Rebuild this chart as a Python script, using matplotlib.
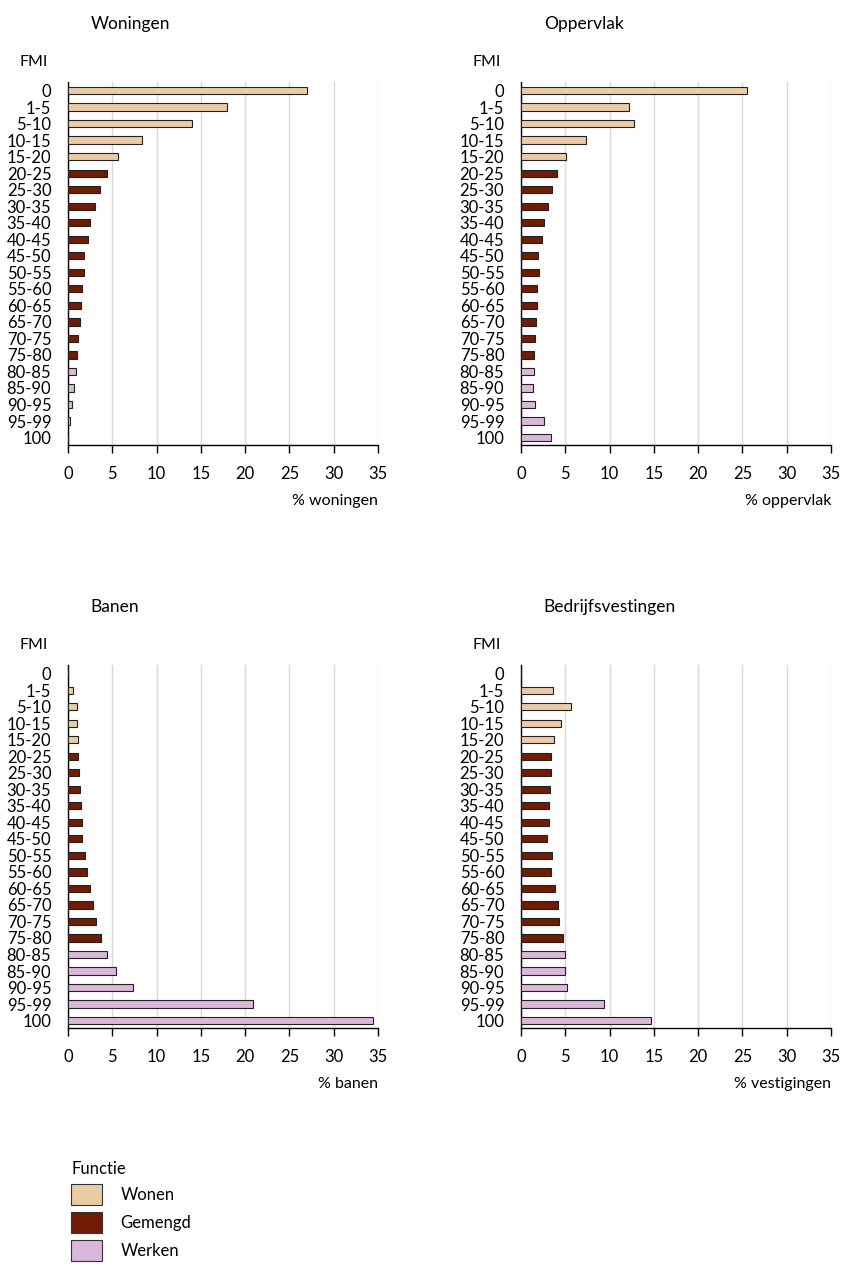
import matplotlib
matplotlib.use("Agg")
import matplotlib.pyplot as plt
from matplotlib.patches import Patch

plt.rcParams['font.family'] = ['Lato', 'DejaVu Sans']

fmi = ["0", "1-5", "5-10", "10-15", "15-20", "20-25", "25-30", "30-35", "35-40",
       "40-45", "45-50", "50-55", "55-60", "60-65", "65-70", "70-75", "75-80",
       "80-85", "85-90", "90-95", "95-99", "100"]
functie = ["Wonen"] * 5 + ["Gemengd"] * 12 + ["Werken"] * 5

woningen = [27.0, 18.0, 14.0, 8.3, 5.6, 4.4, 3.65, 3.05, 2.5, 2.2, 1.8, 1.77,
            1.55, 1.43, 1.3, 1.13, 1.0, 0.87, 0.68, 0.45, 0.26, 0.0]
oppervlak = [25.5, 12.15, 12.76, 7.34, 5.04, 4.03, 3.46, 3.01, 2.56, 2.41, 1.96,
             2.07, 1.81, 1.77, 1.66, 1.54, 1.5, 1.47, 1.39, 1.54, 2.63, 3.39]
banen = [0.0, 0.53, 1.0, 1.05, 1.09, 1.13, 1.24, 1.35, 1.47, 1.58, 1.58, 1.92,
         2.15, 2.48, 2.82, 3.16, 3.76, 4.37, 5.38, 7.38, 20.9, 34.4]
vestigingen = [0.0, 3.65, 5.65, 4.52, 3.73, 3.42, 3.39, 3.27, 3.12, 3.2, 2.97,
               3.46, 3.42, 3.8, 4.18, 4.33, 4.7, 4.97, 4.97, 5.19, 9.37, 14.7]

kleuren = {"Wonen": "#EBCBA6", "Gemengd": "#701C05", "Werken": "#D9B8D9"}

panels = [
    ("Woningen", woningen, "% woningen", [0.0807, 0.6488, 0.3677, 0.2865]),
    ("Oppervlak", oppervlak, "% oppervlak", [0.618, 0.6488, 0.3677, 0.2865]),
    ("Banen", banen, "% banen", [0.0807, 0.1886, 0.3677, 0.2865]),
    ("Bedrijfsvestingen", vestigingen, "% vestigingen", [0.618, 0.1886, 0.3677, 0.2865]),
]

fig = plt.figure(figsize=(8.43, 12.67), dpi=100)

for titel, vals, xlab, pos in panels:
    ax = fig.add_axes(pos)
    y = list(range(len(fmi)))
    ax.barh(y, vals, height=0.44, color=[kleuren[f] for f in functie],
            edgecolor="#222222", linewidth=0.8, zorder=3)
    ax.set_xlim(0, 35)
    ax.set_ylim(21.45, -0.52)
    ax.set_xticks(range(0, 36, 5))
    ax.set_yticks(y)
    ax.set_yticklabels(fmi, fontsize=12)
    ax.tick_params(axis="y", length=0, pad=12)
    ax.tick_params(axis="x", length=6, width=1, labelsize=12, pad=9)
    ax.grid(axis="x", color="#D9D9D9", linewidth=1, zorder=0)
    for s in ["top", "right"]:
        ax.spines[s].set_visible(False)
    ax.spines["left"].set_linewidth(1)
    ax.spines["bottom"].set_linewidth(1)
    ax.set_xlabel(xlab, fontsize=11.5, loc="right", labelpad=9)
    # titel en FMI boven de as
    x0 = pos[0]
    top = pos[1] + pos[3]
    fig.text(x0 + 0.027, top + 0.046, titel, fontsize=12.5, va="center")
    fig.text(x0 - 0.057, top + 0.016, "FMI", fontsize=11.5, va="center")

handles = [Patch(facecolor=kleuren[k], edgecolor="#333333", linewidth=0.8, label=k)
           for k in ["Wonen", "Gemengd", "Werken"]]
leg = fig.legend(handles=handles, title="Functie", loc="upper left",
                 bbox_to_anchor=(0.067, 0.0955), frameon=False, fontsize=12,
                 title_fontsize=12, handlelength=1.85, handleheight=1.55,
                 handletextpad=1.1, labelspacing=0.42, alignment="left")

fig.savefig("out.png", dpi=100)
